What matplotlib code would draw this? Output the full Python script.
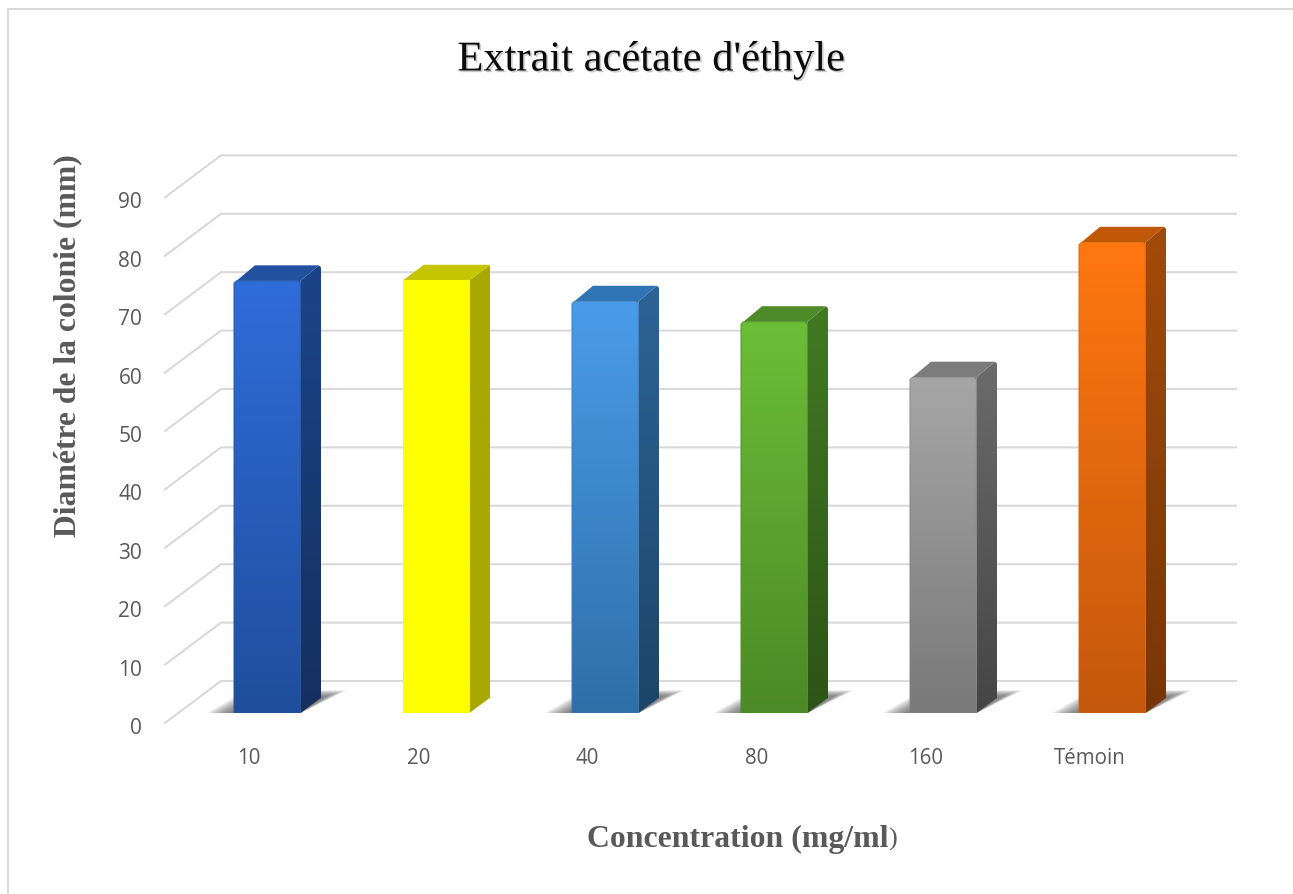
import numpy as np
import matplotlib
matplotlib.use("Agg")
import matplotlib.pyplot as plt
from matplotlib.lines import Line2D
from matplotlib.patches import Polygon
from matplotlib.colors import to_rgb
from matplotlib.transforms import ScaledTranslation
import matplotlib.patheffects as pe

categories = ['10', '20', '40', '80', '160', 'Témoin']
values = [74.0, 74.1, 70.5, 67.0, 57.5, 80.6]
y_ticks = [0, 10, 20, 30, 40, 50, 60, 70, 80, 90]
front_top = ['#2f6dda', '#ffff00', '#4a9ce9', '#6cbe38', '#a6a6a6', '#ff7710']
front_bot = ['#1f4e9c', '#ffff00', '#2f6fa8', '#4b8a26', '#797979', '#c4580c']
side_top = ['#1b4488', '#a8a800', '#2d6496', '#417a23', '#6b6b6b', '#a34b0a']
side_bot = ['#15305f', '#a8a800', '#1c4568', '#2d5415', '#454545', '#773608']
lid = ['#22519f', '#c4c400', '#2f74b5', '#4e8a28', '#7c7c7c', '#c05808']
edge = ['#24559f', '#ffff00', '#3a7cb8', '#4f8f2a', '#858585', '#d9650e']
shadowed = [True, False, True, True, True, True]
rounded = [True, False, True, True, True, True]

W, H = 1293, 894
fig = plt.figure(figsize=(W / 100, H / 100), dpi=100, facecolor='white')

# plot region in pixels
L, R, B, T = 165, 1236, 713, 129
ax = fig.add_axes([L / W, 1 - B / H, (R - L) / W, (B - T) / H])
PX = 169.0          # pixels per category
PY = 5.84           # pixels per value unit
X0 = 267.2
ax.set_xlim((L - X0) / PX, (R - X0) / PX)
ax.set_ylim(0, (B - T) / PY)
ax.patch.set_alpha(0)
for s in ax.spines.values():
    s.set_visible(False)

bw = 66.5 / PX
ddx, ddy = 21 / PX, 15.5 / PY      # bar depth
gbx, gby = (221 - X0) / PX, 32 / PY
gfx, gfy = (165 - X0) / PX, -10 / PY
gright = (1236 - X0) / PX
GRID = '#d9d9d9'

# gridlines on the back wall and on the side wall
for v in y_ticks:
    ax.plot([gfx, gbx, gright], [v + gfy, v + gby, v + gby], color=GRID, lw=1.5,
            clip_on=False, zorder=1, solid_joinstyle='miter')


def grad(poly, c_top, c_bot, y0, y1, z):
    """Fill polygon with a vertical gradient between y0 and y1 in data units."""
    n = 128
    t = np.linspace(0, 1, n)[:, None, None]
    a, b = np.array(to_rgb(c_top)), np.array(to_rgb(c_bot))
    img = a[None, None, :] * (1 - t) + b[None, None, :] * t
    xs = [p[0] for p in poly]
    im = ax.imshow(img, extent=(min(xs), max(xs), y0, y1), aspect='auto',
                   origin='upper', zorder=z, interpolation='bilinear')
    patch = Polygon(poly, closed=True, transform=ax.transData, fc='none', ec='none')
    ax.add_patch(patch)
    im.set_clip_path(patch)


for i, v in enumerate(values):
    xl, xr = i - bw / 2, i + bw / 2
    z = 3 + i * 0.1
    if shadowed[i]:
        for f in np.linspace(1.05, 0.15, 18):
            pts = [(xl - 26 * f / PX, 0), (xl, 15 * f / PY),
                   (xr + ddx, ddy + 7 * f / PY), (xr + ddx + 24 * f / PX, ddy + 7 * f / PY),
                   (xr, 0)]
            ax.add_patch(Polygon(pts, closed=True, fc='#505050', ec='none',
                                 alpha=0.06, zorder=2, clip_on=False))
    c = 2.5 if rounded[i] else 0
    cx, cy = c / PX, c / PY
    # side face
    side = [(xr, 0), (xr + ddx, ddy), (xr + ddx, v + ddy - cy), (xr + ddx - cx, v + ddy), (xr, v)]
    grad(side, side_top[i], side_bot[i], 0, v + ddy, z)
    # top face
    top = [(xl + cx, v), (xl + ddx, v + ddy), (xr + ddx - cx, v + ddy), (xr, v), (xr, v - cy), (xr - cx, v)]
    ax.add_patch(Polygon(top, closed=True, fc=lid[i], ec='none', zorder=z))
    # front face
    front = [(xl, 0), (xl, v - cy), (xl + cx, v), (xr - cx, v), (xr, v - cy), (xr, 0)]
    grad(front, front_top[i], front_bot[i], 0, v, z + 0.01)
    ax.add_patch(Polygon(front, closed=True, fc='none', ec=edge[i], lw=0.8, alpha=0.8, zorder=z + 0.02))

ax.set_xlim((L - X0) / PX, (R - X0) / PX)
ax.set_ylim(0, (B - T) / PY)

# ticks, moved onto the front edge of the chart box
TICK = '#595959'
FONT = ['Open Sans', 'DejaVu Sans']
ax.set_xticks(range(len(categories)), categories)
ax.set_yticks(y_ticks, [str(t) for t in y_ticks])
ax.tick_params(length=0)
for i, lab in enumerate(ax.get_xticklabels()):
    dx = -22 if categories[i] == 'Témoin' else -18
    lab.set_transform(lab.get_transform() + ScaledTranslation(dx / 100, -41 / 100, fig.dpi_scale_trans))
    lab.set_va('center')
    lab.set_color(TICK)
    lab.set_family(FONT)
    lab.set_fontsize(14.8)
for lab in ax.get_yticklabels():
    lab.set_transform(lab.get_transform() + ScaledTranslation(-18 / 100, -13 / 100, fig.dpi_scale_trans))
    lab.set_color(TICK)
    lab.set_family(FONT)
    lab.set_fontsize(15)


def px_text(x, y, s, **kw):
    return fig.text(x / W, 1 - y / H, s, family=['Liberation Serif'], **kw)


title = px_text(651, 60, "Extrait acétate d'éthyle", fontsize=30.6, color='#0a0a0a',
                ha='center', va='center')
title.set_path_effects([pe.SimplePatchShadow(offset=(1.2, -1.2), shadow_rgbFace='#999999', alpha=0.5),
                        pe.Normal()])
px_text(68, 346, 'Diamétre de la colonie (mm)', fontsize=22.8, fontweight='bold', color=TICK,
        rotation=90, ha='center', va='center')
px_text(587, 839, 'Concentration (mg/ml', fontsize=22.9, fontweight='bold', color=TICK,
        ha='left', va='center')
px_text(888, 839, ')', fontsize=19, color=TICK, ha='left', va='center')

# chart frame: only the top and left edges fall in the image
fig.add_artist(Line2D([1, 7.5 / W, 7.5 / W], [1 - 9 / H, 1 - 9 / H, 0], color=GRID, lw=1.5,
                      transform=fig.transFigure, solid_joinstyle='miter'))

fig.savefig('out.png', dpi=100)
